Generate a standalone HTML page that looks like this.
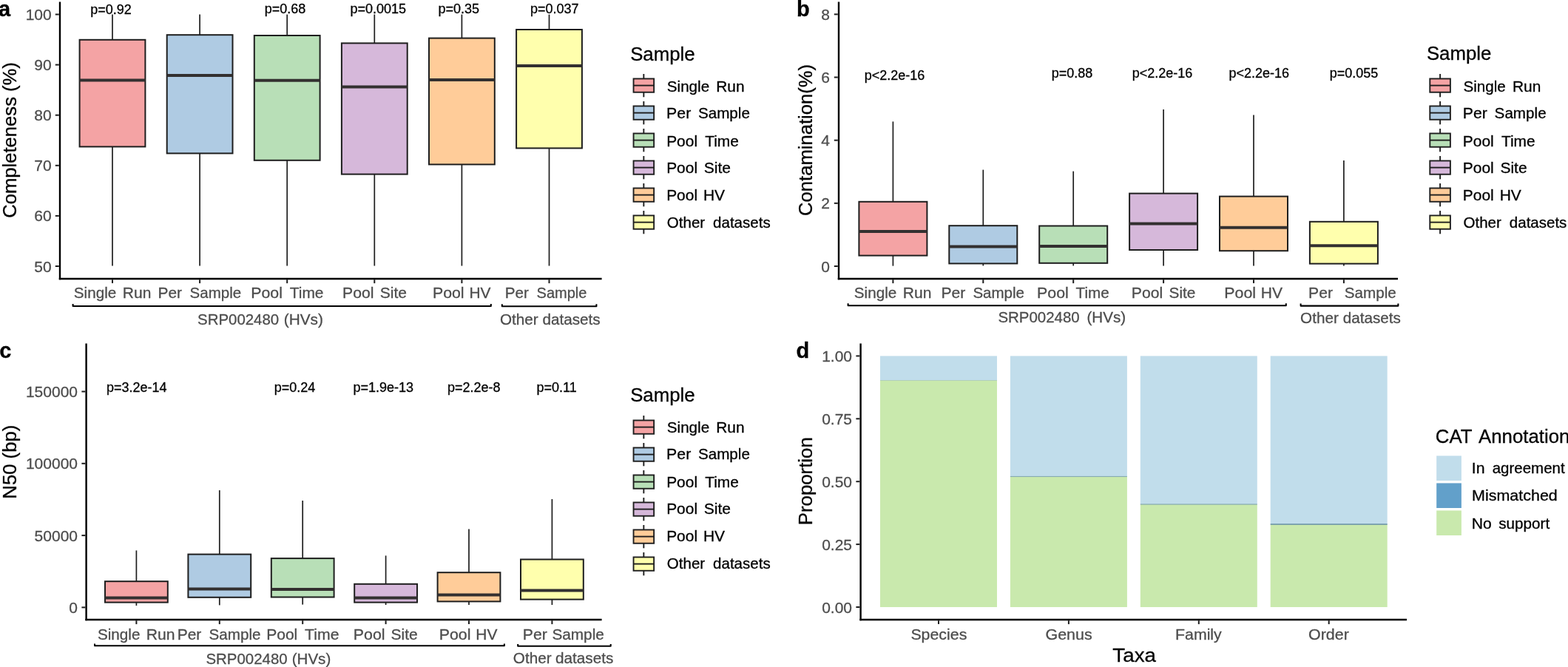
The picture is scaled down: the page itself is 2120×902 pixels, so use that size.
<!DOCTYPE html>
<html><head><meta charset="utf-8"><title>Figure</title>
<style>
html,body{margin:0;padding:0;background:#fff;}
body{width:2120px;height:902px;overflow:hidden;}
svg{display:block;}
text{white-space:pre;}
</style></head><body>
<svg width="2120" height="902" viewBox="0 0 2120 902" font-family='"Liberation Sans", sans-serif'>
<rect x="0.00" y="0.00" width="2120.00" height="902.00" fill="#ffffff" stroke="none" stroke-width="0"/>
<line x1="81.00" y1="2.40" x2="81.00" y2="378.20" stroke="#000000" stroke-width="2.4" stroke-linecap="butt"/>
<line x1="74.80" y1="360.00" x2="79.80" y2="360.00" stroke="#1e1e1e" stroke-width="2.0" stroke-linecap="butt"/>
<text x="69.70" y="367.50" font-size="21" fill="#4d4d4d" stroke="#4d4d4d" stroke-width="0.3" text-anchor="end" font-weight="normal" >50</text>
<line x1="74.80" y1="291.90" x2="79.80" y2="291.90" stroke="#1e1e1e" stroke-width="2.0" stroke-linecap="butt"/>
<text x="69.70" y="299.40" font-size="21" fill="#4d4d4d" stroke="#4d4d4d" stroke-width="0.3" text-anchor="end" font-weight="normal" >60</text>
<line x1="74.80" y1="223.80" x2="79.80" y2="223.80" stroke="#1e1e1e" stroke-width="2.0" stroke-linecap="butt"/>
<text x="69.70" y="231.30" font-size="21" fill="#4d4d4d" stroke="#4d4d4d" stroke-width="0.3" text-anchor="end" font-weight="normal" >70</text>
<line x1="74.80" y1="155.70" x2="79.80" y2="155.70" stroke="#1e1e1e" stroke-width="2.0" stroke-linecap="butt"/>
<text x="69.70" y="163.20" font-size="21" fill="#4d4d4d" stroke="#4d4d4d" stroke-width="0.3" text-anchor="end" font-weight="normal" >80</text>
<line x1="74.80" y1="87.60" x2="79.80" y2="87.60" stroke="#1e1e1e" stroke-width="2.0" stroke-linecap="butt"/>
<text x="69.70" y="95.10" font-size="21" fill="#4d4d4d" stroke="#4d4d4d" stroke-width="0.3" text-anchor="end" font-weight="normal" >90</text>
<line x1="74.80" y1="19.50" x2="79.80" y2="19.50" stroke="#1e1e1e" stroke-width="2.0" stroke-linecap="butt"/>
<text x="69.70" y="27.00" font-size="21" fill="#4d4d4d" stroke="#4d4d4d" stroke-width="0.3" text-anchor="end" font-weight="normal" >100</text>
<line x1="79.80" y1="377.00" x2="813.60" y2="377.00" stroke="#000000" stroke-width="2.4" stroke-linecap="butt"/>
<line x1="152.00" y1="378.20" x2="152.00" y2="383.10" stroke="#1e1e1e" stroke-width="2.0" stroke-linecap="butt"/>
<line x1="270.10" y1="378.20" x2="270.10" y2="383.10" stroke="#1e1e1e" stroke-width="2.0" stroke-linecap="butt"/>
<line x1="388.20" y1="378.20" x2="388.20" y2="383.10" stroke="#1e1e1e" stroke-width="2.0" stroke-linecap="butt"/>
<line x1="506.30" y1="378.20" x2="506.30" y2="383.10" stroke="#1e1e1e" stroke-width="2.0" stroke-linecap="butt"/>
<line x1="624.40" y1="378.20" x2="624.40" y2="383.10" stroke="#1e1e1e" stroke-width="2.0" stroke-linecap="butt"/>
<line x1="742.50" y1="378.20" x2="742.50" y2="383.10" stroke="#1e1e1e" stroke-width="2.0" stroke-linecap="butt"/>
<line x1="152.00" y1="19.60" x2="152.00" y2="53.80" stroke="#1e1e1e" stroke-width="1.7" stroke-linecap="butt"/>
<line x1="152.00" y1="198.40" x2="152.00" y2="359.50" stroke="#1e1e1e" stroke-width="1.7" stroke-linecap="butt"/>
<rect x="107.60" y="53.80" width="88.80" height="144.60" fill="#f4a3a4" stroke="#1e1e1e" stroke-width="2.0"/>
<line x1="107.60" y1="108.40" x2="196.40" y2="108.40" stroke="#333030" stroke-width="4.0" stroke-linecap="butt"/>
<line x1="270.10" y1="19.60" x2="270.10" y2="47.20" stroke="#1e1e1e" stroke-width="1.7" stroke-linecap="butt"/>
<line x1="270.10" y1="207.40" x2="270.10" y2="359.50" stroke="#1e1e1e" stroke-width="1.7" stroke-linecap="butt"/>
<rect x="225.70" y="47.20" width="88.80" height="160.20" fill="#afcbe3" stroke="#1e1e1e" stroke-width="2.0"/>
<line x1="225.70" y1="102.00" x2="314.50" y2="102.00" stroke="#333030" stroke-width="4.0" stroke-linecap="butt"/>
<line x1="388.20" y1="19.60" x2="388.20" y2="48.00" stroke="#1e1e1e" stroke-width="1.7" stroke-linecap="butt"/>
<line x1="388.20" y1="216.80" x2="388.20" y2="359.50" stroke="#1e1e1e" stroke-width="1.7" stroke-linecap="butt"/>
<rect x="343.80" y="48.00" width="88.80" height="168.80" fill="#b8dfb7" stroke="#1e1e1e" stroke-width="2.0"/>
<line x1="343.80" y1="108.70" x2="432.60" y2="108.70" stroke="#333030" stroke-width="4.0" stroke-linecap="butt"/>
<line x1="506.30" y1="19.60" x2="506.30" y2="58.40" stroke="#1e1e1e" stroke-width="1.7" stroke-linecap="butt"/>
<line x1="506.30" y1="235.60" x2="506.30" y2="359.50" stroke="#1e1e1e" stroke-width="1.7" stroke-linecap="butt"/>
<rect x="461.90" y="58.40" width="88.80" height="177.20" fill="#d6b8da" stroke="#1e1e1e" stroke-width="2.0"/>
<line x1="461.90" y1="117.60" x2="550.70" y2="117.60" stroke="#333030" stroke-width="4.0" stroke-linecap="butt"/>
<line x1="624.40" y1="19.60" x2="624.40" y2="51.60" stroke="#1e1e1e" stroke-width="1.7" stroke-linecap="butt"/>
<line x1="624.40" y1="222.40" x2="624.40" y2="359.50" stroke="#1e1e1e" stroke-width="1.7" stroke-linecap="butt"/>
<rect x="580.00" y="51.60" width="88.80" height="170.80" fill="#ffcc99" stroke="#1e1e1e" stroke-width="2.0"/>
<line x1="580.00" y1="108.00" x2="668.80" y2="108.00" stroke="#333030" stroke-width="4.0" stroke-linecap="butt"/>
<line x1="742.50" y1="19.60" x2="742.50" y2="40.00" stroke="#1e1e1e" stroke-width="1.7" stroke-linecap="butt"/>
<line x1="742.50" y1="200.40" x2="742.50" y2="359.50" stroke="#1e1e1e" stroke-width="1.7" stroke-linecap="butt"/>
<rect x="698.10" y="40.00" width="88.80" height="160.40" fill="#ffffad" stroke="#1e1e1e" stroke-width="2.0"/>
<line x1="698.10" y1="89.00" x2="786.90" y2="89.00" stroke="#333030" stroke-width="4.0" stroke-linecap="butt"/>
<text x="122.20" y="19.40" font-size="18" fill="#000" stroke="#000" stroke-width="0.3" text-anchor="start" font-weight="normal" >p=0.92</text>
<text x="357.80" y="17.80" font-size="18" fill="#000" stroke="#000" stroke-width="0.3" text-anchor="start" font-weight="normal" >p=0.68</text>
<text x="473.50" y="17.80" font-size="18" fill="#000" stroke="#000" stroke-width="0.3" text-anchor="start" font-weight="normal" >p=0.0015</text>
<text x="592.50" y="17.80" font-size="18" fill="#000" stroke="#000" stroke-width="0.3" text-anchor="start" font-weight="normal" >p=0.35</text>
<text x="717.00" y="17.80" font-size="18" fill="#000" stroke="#000" stroke-width="0.3" text-anchor="start" font-weight="normal" >p=0.037</text>
<text x="99.82" y="403.40" font-size="21" fill="#4d4d4d" stroke="#4d4d4d" stroke-width="0.3" textLength="57.45" lengthAdjust="spacingAndGlyphs">Single</text>
<text x="165.85" y="403.40" font-size="21" fill="#4d4d4d" stroke="#4d4d4d" stroke-width="0.3" textLength="38.52" lengthAdjust="spacingAndGlyphs">Run</text>
<text x="213.46" y="403.40" font-size="21" fill="#4d4d4d" stroke="#4d4d4d" stroke-width="0.3" textLength="32.57" lengthAdjust="spacingAndGlyphs">Per</text>
<text x="256.62" y="403.40" font-size="21" fill="#4d4d4d" stroke="#4d4d4d" stroke-width="0.3" textLength="69.61" lengthAdjust="spacingAndGlyphs">Sample</text>
<text x="339.22" y="403.40" font-size="21" fill="#4d4d4d" stroke="#4d4d4d" stroke-width="0.3" textLength="42.68" lengthAdjust="spacingAndGlyphs">Pool</text>
<text x="391.71" y="403.40" font-size="21" fill="#4d4d4d" stroke="#4d4d4d" stroke-width="0.3" textLength="45.83" lengthAdjust="spacingAndGlyphs">Time</text>
<text x="463.04" y="403.40" font-size="21" fill="#4d4d4d" stroke="#4d4d4d" stroke-width="0.3" textLength="42.35" lengthAdjust="spacingAndGlyphs">Pool</text>
<text x="513.70" y="403.40" font-size="21" fill="#4d4d4d" stroke="#4d4d4d" stroke-width="0.3" textLength="36.24" lengthAdjust="spacingAndGlyphs">Site</text>
<text x="584.92" y="403.40" font-size="21" fill="#4d4d4d" stroke="#4d4d4d" stroke-width="0.3" textLength="42.68" lengthAdjust="spacingAndGlyphs">Pool</text>
<text x="634.46" y="403.40" font-size="21" fill="#4d4d4d" stroke="#4d4d4d" stroke-width="0.3" textLength="29.01" lengthAdjust="spacingAndGlyphs">HV</text>
<text x="682.68" y="403.40" font-size="21" fill="#4d4d4d" stroke="#4d4d4d" stroke-width="0.3" textLength="32.14" lengthAdjust="spacingAndGlyphs">Per</text>
<text x="725.55" y="403.40" font-size="21" fill="#4d4d4d" stroke="#4d4d4d" stroke-width="0.3" textLength="67.86" lengthAdjust="spacingAndGlyphs">Sample</text>
<path d="M98.60,411.10 L98.60,414.00 L663.80,414.00 L663.80,411.10" fill="none" stroke="#000" stroke-width="2.05" stroke-linejoin="round"/>
<path d="M678.80,411.30 L678.80,414.20 L806.40,414.20 L806.40,411.30" fill="none" stroke="#000" stroke-width="2.05" stroke-linejoin="round"/>
<text x="267.03" y="438.60" font-size="21" fill="#4d4d4d" stroke="#4d4d4d" stroke-width="0.3" textLength="110.21" lengthAdjust="spacingAndGlyphs">SRP002480</text>
<text x="383.76" y="438.60" font-size="21" fill="#4d4d4d" stroke="#4d4d4d" stroke-width="0.3" textLength="53.13" lengthAdjust="spacingAndGlyphs">(HVs)</text>
<text x="675.91" y="438.80" font-size="21" fill="#4d4d4d" stroke="#4d4d4d" stroke-width="0.3" textLength="51.73" lengthAdjust="spacingAndGlyphs">Other</text>
<text x="733.48" y="438.80" font-size="21" fill="#4d4d4d" stroke="#4d4d4d" stroke-width="0.3" textLength="78.19" lengthAdjust="spacingAndGlyphs">datasets</text>
<text x="-1.24" y="0" font-size="25.8" fill="#000" stroke="#000" stroke-width="0.3" textLength="210.64" lengthAdjust="spacingAndGlyphs" transform="translate(21.90,293.50) rotate(-90)">Completeness (%)</text>
<text x="852.15" y="81.50" font-size="25.8" fill="#000" stroke="#000" stroke-width="0.3" text-anchor="start" font-weight="normal" >Sample</text>
<line x1="870.35" y1="100.00" x2="870.35" y2="106.50" stroke="#1e1e1e" stroke-width="1.9" stroke-linecap="butt"/>
<line x1="870.35" y1="124.70" x2="870.35" y2="131.30" stroke="#1e1e1e" stroke-width="1.9" stroke-linecap="butt"/>
<rect x="856.55" y="106.45" width="27.60" height="18.30" fill="#f4a3a4" stroke="#1e1e1e" stroke-width="1.9"/>
<line x1="856.55" y1="115.60" x2="884.15" y2="115.60" stroke="#1e1e1e" stroke-width="1.9" stroke-linecap="butt"/>
<text x="901.82" y="123.50" font-size="21" fill="#000" stroke="#000" stroke-width="0.3" textLength="57.34" lengthAdjust="spacingAndGlyphs">Single</text>
<text x="968.26" y="123.50" font-size="21" fill="#000" stroke="#000" stroke-width="0.3" textLength="38.31" lengthAdjust="spacingAndGlyphs">Run</text>
<line x1="870.35" y1="137.00" x2="870.35" y2="143.50" stroke="#1e1e1e" stroke-width="1.9" stroke-linecap="butt"/>
<line x1="870.35" y1="161.70" x2="870.35" y2="168.30" stroke="#1e1e1e" stroke-width="1.9" stroke-linecap="butt"/>
<rect x="856.55" y="143.45" width="27.60" height="18.30" fill="#afcbe3" stroke="#1e1e1e" stroke-width="1.9"/>
<line x1="856.55" y1="152.60" x2="884.15" y2="152.60" stroke="#1e1e1e" stroke-width="1.9" stroke-linecap="butt"/>
<text x="901.13" y="160.10" font-size="21" fill="#000" stroke="#000" stroke-width="0.3" textLength="33.11" lengthAdjust="spacingAndGlyphs">Per</text>
<text x="943.92" y="160.10" font-size="21" fill="#000" stroke="#000" stroke-width="0.3" textLength="70.02" lengthAdjust="spacingAndGlyphs">Sample</text>
<line x1="870.35" y1="174.00" x2="870.35" y2="180.50" stroke="#1e1e1e" stroke-width="1.9" stroke-linecap="butt"/>
<line x1="870.35" y1="198.70" x2="870.35" y2="205.30" stroke="#1e1e1e" stroke-width="1.9" stroke-linecap="butt"/>
<rect x="856.55" y="180.45" width="27.60" height="18.30" fill="#b8dfb7" stroke="#1e1e1e" stroke-width="1.9"/>
<line x1="856.55" y1="189.60" x2="884.15" y2="189.60" stroke="#1e1e1e" stroke-width="1.9" stroke-linecap="butt"/>
<text x="901.15" y="197.50" font-size="21" fill="#000" stroke="#000" stroke-width="0.3" textLength="41.92" lengthAdjust="spacingAndGlyphs">Pool</text>
<text x="953.21" y="197.50" font-size="21" fill="#000" stroke="#000" stroke-width="0.3" textLength="45.72" lengthAdjust="spacingAndGlyphs">Time</text>
<line x1="870.35" y1="211.00" x2="870.35" y2="217.50" stroke="#1e1e1e" stroke-width="1.9" stroke-linecap="butt"/>
<line x1="870.35" y1="235.70" x2="870.35" y2="242.30" stroke="#1e1e1e" stroke-width="1.9" stroke-linecap="butt"/>
<rect x="856.55" y="217.45" width="27.60" height="18.30" fill="#d6b8da" stroke="#1e1e1e" stroke-width="1.9"/>
<line x1="856.55" y1="226.60" x2="884.15" y2="226.60" stroke="#1e1e1e" stroke-width="1.9" stroke-linecap="butt"/>
<text x="901.15" y="234.20" font-size="21" fill="#000" stroke="#000" stroke-width="0.3" textLength="41.92" lengthAdjust="spacingAndGlyphs">Pool</text>
<text x="951.70" y="234.20" font-size="21" fill="#000" stroke="#000" stroke-width="0.3" textLength="36.24" lengthAdjust="spacingAndGlyphs">Site</text>
<line x1="870.35" y1="248.00" x2="870.35" y2="254.50" stroke="#1e1e1e" stroke-width="1.9" stroke-linecap="butt"/>
<line x1="870.35" y1="272.70" x2="870.35" y2="279.30" stroke="#1e1e1e" stroke-width="1.9" stroke-linecap="butt"/>
<rect x="856.55" y="254.45" width="27.60" height="18.30" fill="#ffcc99" stroke="#1e1e1e" stroke-width="1.9"/>
<line x1="856.55" y1="263.60" x2="884.15" y2="263.60" stroke="#1e1e1e" stroke-width="1.9" stroke-linecap="butt"/>
<text x="901.15" y="271.20" font-size="21" fill="#000" stroke="#000" stroke-width="0.3" textLength="41.92" lengthAdjust="spacingAndGlyphs">Pool</text>
<text x="950.95" y="271.20" font-size="21" fill="#000" stroke="#000" stroke-width="0.3" textLength="29.12" lengthAdjust="spacingAndGlyphs">HV</text>
<line x1="870.35" y1="285.00" x2="870.35" y2="291.50" stroke="#1e1e1e" stroke-width="1.9" stroke-linecap="butt"/>
<line x1="870.35" y1="309.70" x2="870.35" y2="316.30" stroke="#1e1e1e" stroke-width="1.9" stroke-linecap="butt"/>
<rect x="856.55" y="291.45" width="27.60" height="18.30" fill="#ffffad" stroke="#1e1e1e" stroke-width="1.9"/>
<line x1="856.55" y1="300.60" x2="884.15" y2="300.60" stroke="#1e1e1e" stroke-width="1.9" stroke-linecap="butt"/>
<text x="901.82" y="307.80" font-size="21" fill="#000" stroke="#000" stroke-width="0.3" textLength="51.34" lengthAdjust="spacingAndGlyphs">Other</text>
<text x="964.12" y="307.80" font-size="21" fill="#000" stroke="#000" stroke-width="0.3" textLength="77.54" lengthAdjust="spacingAndGlyphs">datasets</text>
<text x="-2.00" y="21.60" font-size="29" fill="#000" stroke="#000" stroke-width="0.3" text-anchor="start" font-weight="bold" >a</text>
<line x1="1134.00" y1="2.40" x2="1134.00" y2="378.20" stroke="#000000" stroke-width="2.4" stroke-linecap="butt"/>
<line x1="1127.80" y1="360.00" x2="1132.80" y2="360.00" stroke="#1e1e1e" stroke-width="2.0" stroke-linecap="butt"/>
<text x="1122.00" y="367.50" font-size="21" fill="#4d4d4d" stroke="#4d4d4d" stroke-width="0.3" text-anchor="end" font-weight="normal" >0</text>
<line x1="1127.80" y1="274.84" x2="1132.80" y2="274.84" stroke="#1e1e1e" stroke-width="2.0" stroke-linecap="butt"/>
<text x="1122.00" y="282.34" font-size="21" fill="#4d4d4d" stroke="#4d4d4d" stroke-width="0.3" text-anchor="end" font-weight="normal" >2</text>
<line x1="1127.80" y1="189.68" x2="1132.80" y2="189.68" stroke="#1e1e1e" stroke-width="2.0" stroke-linecap="butt"/>
<text x="1122.00" y="197.18" font-size="21" fill="#4d4d4d" stroke="#4d4d4d" stroke-width="0.3" text-anchor="end" font-weight="normal" >4</text>
<line x1="1127.80" y1="104.52" x2="1132.80" y2="104.52" stroke="#1e1e1e" stroke-width="2.0" stroke-linecap="butt"/>
<text x="1122.00" y="112.02" font-size="21" fill="#4d4d4d" stroke="#4d4d4d" stroke-width="0.3" text-anchor="end" font-weight="normal" >6</text>
<line x1="1127.80" y1="19.36" x2="1132.80" y2="19.36" stroke="#1e1e1e" stroke-width="2.0" stroke-linecap="butt"/>
<text x="1122.00" y="26.86" font-size="21" fill="#4d4d4d" stroke="#4d4d4d" stroke-width="0.3" text-anchor="end" font-weight="normal" >8</text>
<line x1="1132.80" y1="377.00" x2="1890.00" y2="377.00" stroke="#000000" stroke-width="2.4" stroke-linecap="butt"/>
<line x1="1207.40" y1="378.20" x2="1207.40" y2="383.10" stroke="#1e1e1e" stroke-width="2.0" stroke-linecap="butt"/>
<line x1="1329.30" y1="378.20" x2="1329.30" y2="383.10" stroke="#1e1e1e" stroke-width="2.0" stroke-linecap="butt"/>
<line x1="1451.20" y1="378.20" x2="1451.20" y2="383.10" stroke="#1e1e1e" stroke-width="2.0" stroke-linecap="butt"/>
<line x1="1573.10" y1="378.20" x2="1573.10" y2="383.10" stroke="#1e1e1e" stroke-width="2.0" stroke-linecap="butt"/>
<line x1="1695.00" y1="378.20" x2="1695.00" y2="383.10" stroke="#1e1e1e" stroke-width="2.0" stroke-linecap="butt"/>
<line x1="1816.90" y1="378.20" x2="1816.90" y2="383.10" stroke="#1e1e1e" stroke-width="2.0" stroke-linecap="butt"/>
<line x1="1207.40" y1="164.40" x2="1207.40" y2="272.80" stroke="#1e1e1e" stroke-width="1.7" stroke-linecap="butt"/>
<line x1="1207.40" y1="345.60" x2="1207.40" y2="359.60" stroke="#1e1e1e" stroke-width="1.7" stroke-linecap="butt"/>
<rect x="1161.40" y="272.80" width="92.00" height="72.80" fill="#f4a3a4" stroke="#1e1e1e" stroke-width="2.0"/>
<line x1="1161.40" y1="313.00" x2="1253.40" y2="313.00" stroke="#333030" stroke-width="4.0" stroke-linecap="butt"/>
<line x1="1329.30" y1="229.60" x2="1329.30" y2="305.20" stroke="#1e1e1e" stroke-width="1.7" stroke-linecap="butt"/>
<line x1="1329.30" y1="356.40" x2="1329.30" y2="359.40" stroke="#1e1e1e" stroke-width="1.7" stroke-linecap="butt"/>
<rect x="1283.30" y="305.20" width="92.00" height="51.20" fill="#afcbe3" stroke="#1e1e1e" stroke-width="2.0"/>
<line x1="1283.30" y1="333.60" x2="1375.30" y2="333.60" stroke="#333030" stroke-width="4.0" stroke-linecap="butt"/>
<line x1="1451.20" y1="231.60" x2="1451.20" y2="305.50" stroke="#1e1e1e" stroke-width="1.7" stroke-linecap="butt"/>
<line x1="1451.20" y1="355.80" x2="1451.20" y2="359.40" stroke="#1e1e1e" stroke-width="1.7" stroke-linecap="butt"/>
<rect x="1405.20" y="305.50" width="92.00" height="50.30" fill="#b8dfb7" stroke="#1e1e1e" stroke-width="2.0"/>
<line x1="1405.20" y1="333.00" x2="1497.20" y2="333.00" stroke="#333030" stroke-width="4.0" stroke-linecap="butt"/>
<line x1="1573.10" y1="148.00" x2="1573.10" y2="261.60" stroke="#1e1e1e" stroke-width="1.7" stroke-linecap="butt"/>
<line x1="1573.10" y1="338.00" x2="1573.10" y2="359.60" stroke="#1e1e1e" stroke-width="1.7" stroke-linecap="butt"/>
<rect x="1527.10" y="261.60" width="92.00" height="76.40" fill="#d6b8da" stroke="#1e1e1e" stroke-width="2.0"/>
<line x1="1527.10" y1="302.60" x2="1619.10" y2="302.60" stroke="#333030" stroke-width="4.0" stroke-linecap="butt"/>
<line x1="1695.00" y1="155.60" x2="1695.00" y2="265.60" stroke="#1e1e1e" stroke-width="1.7" stroke-linecap="butt"/>
<line x1="1695.00" y1="339.20" x2="1695.00" y2="359.60" stroke="#1e1e1e" stroke-width="1.7" stroke-linecap="butt"/>
<rect x="1649.00" y="265.60" width="92.00" height="73.60" fill="#ffcc99" stroke="#1e1e1e" stroke-width="2.0"/>
<line x1="1649.00" y1="307.70" x2="1741.00" y2="307.70" stroke="#333030" stroke-width="4.0" stroke-linecap="butt"/>
<line x1="1816.90" y1="217.00" x2="1816.90" y2="299.80" stroke="#1e1e1e" stroke-width="1.7" stroke-linecap="butt"/>
<line x1="1816.90" y1="356.60" x2="1816.90" y2="359.40" stroke="#1e1e1e" stroke-width="1.7" stroke-linecap="butt"/>
<rect x="1770.90" y="299.80" width="92.00" height="56.80" fill="#ffffad" stroke="#1e1e1e" stroke-width="2.0"/>
<line x1="1770.90" y1="332.20" x2="1862.90" y2="332.20" stroke="#333030" stroke-width="4.0" stroke-linecap="butt"/>
<text x="1168.80" y="107.80" font-size="18" fill="#000" stroke="#000" stroke-width="0.3" text-anchor="start" font-weight="normal" >p&lt;2.2e-16</text>
<text x="1421.80" y="104.50" font-size="18" fill="#000" stroke="#000" stroke-width="0.3" text-anchor="start" font-weight="normal" >p=0.88</text>
<text x="1530.80" y="104.50" font-size="18" fill="#000" stroke="#000" stroke-width="0.3" text-anchor="start" font-weight="normal" >p&lt;2.2e-16</text>
<text x="1661.50" y="104.50" font-size="18" fill="#000" stroke="#000" stroke-width="0.3" text-anchor="start" font-weight="normal" >p&lt;2.2e-16</text>
<text x="1797.80" y="104.50" font-size="18" fill="#000" stroke="#000" stroke-width="0.3" text-anchor="start" font-weight="normal" >p=0.055</text>
<text x="1154.82" y="403.40" font-size="21" fill="#4d4d4d" stroke="#4d4d4d" stroke-width="0.3" textLength="57.45" lengthAdjust="spacingAndGlyphs">Single</text>
<text x="1220.85" y="403.40" font-size="21" fill="#4d4d4d" stroke="#4d4d4d" stroke-width="0.3" textLength="38.52" lengthAdjust="spacingAndGlyphs">Run</text>
<text x="1272.44" y="403.40" font-size="21" fill="#4d4d4d" stroke="#4d4d4d" stroke-width="0.3" textLength="32.89" lengthAdjust="spacingAndGlyphs">Per</text>
<text x="1315.42" y="403.40" font-size="21" fill="#4d4d4d" stroke="#4d4d4d" stroke-width="0.3" textLength="69.61" lengthAdjust="spacingAndGlyphs">Sample</text>
<text x="1402.12" y="403.40" font-size="21" fill="#4d4d4d" stroke="#4d4d4d" stroke-width="0.3" textLength="42.68" lengthAdjust="spacingAndGlyphs">Pool</text>
<text x="1454.62" y="403.40" font-size="21" fill="#4d4d4d" stroke="#4d4d4d" stroke-width="0.3" textLength="44.99" lengthAdjust="spacingAndGlyphs">Time</text>
<text x="1529.84" y="403.40" font-size="21" fill="#4d4d4d" stroke="#4d4d4d" stroke-width="0.3" textLength="42.35" lengthAdjust="spacingAndGlyphs">Pool</text>
<text x="1580.51" y="403.40" font-size="21" fill="#4d4d4d" stroke="#4d4d4d" stroke-width="0.3" textLength="35.92" lengthAdjust="spacingAndGlyphs">Site</text>
<text x="1655.32" y="403.40" font-size="21" fill="#4d4d4d" stroke="#4d4d4d" stroke-width="0.3" textLength="42.68" lengthAdjust="spacingAndGlyphs">Pool</text>
<text x="1704.85" y="403.40" font-size="21" fill="#4d4d4d" stroke="#4d4d4d" stroke-width="0.3" textLength="29.12" lengthAdjust="spacingAndGlyphs">HV</text>
<text x="1769.14" y="403.40" font-size="21" fill="#4d4d4d" stroke="#4d4d4d" stroke-width="0.3" textLength="32.89" lengthAdjust="spacingAndGlyphs">Per</text>
<text x="1817.82" y="403.40" font-size="21" fill="#4d4d4d" stroke="#4d4d4d" stroke-width="0.3" textLength="69.92" lengthAdjust="spacingAndGlyphs">Sample</text>
<path d="M1146.60,410.20 L1146.60,413.20 L1738.80,413.20 L1738.80,410.20" fill="none" stroke="#000" stroke-width="2.05" stroke-linejoin="round"/>
<path d="M1758.60,410.40 L1758.60,413.60 L1890.40,413.60 L1890.40,410.40" fill="none" stroke="#000" stroke-width="2.05" stroke-linejoin="round"/>
<text x="1349.43" y="436.20" font-size="21" fill="#4d4d4d" stroke="#4d4d4d" stroke-width="0.3" textLength="110.31" lengthAdjust="spacingAndGlyphs">SRP002480</text>
<text x="1469.47" y="436.20" font-size="21" fill="#4d4d4d" stroke="#4d4d4d" stroke-width="0.3" textLength="52.61" lengthAdjust="spacingAndGlyphs">(HVs)</text>
<text x="1758.12" y="436.50" font-size="21" fill="#4d4d4d" stroke="#4d4d4d" stroke-width="0.3" textLength="51.73" lengthAdjust="spacingAndGlyphs">Other</text>
<text x="1815.68" y="436.50" font-size="21" fill="#4d4d4d" stroke="#4d4d4d" stroke-width="0.3" textLength="78.19" lengthAdjust="spacingAndGlyphs">datasets</text>
<text x="-1.24" y="0" font-size="25.8" fill="#000" stroke="#000" stroke-width="0.3" textLength="204.97" lengthAdjust="spacingAndGlyphs" transform="translate(1098.20,290.70) rotate(-90)">Contamination(%)</text>
<text x="1928.90" y="81.20" font-size="25.8" fill="#000" stroke="#000" stroke-width="0.3" text-anchor="start" font-weight="normal" >Sample</text>
<line x1="1947.10" y1="100.00" x2="1947.10" y2="106.50" stroke="#1e1e1e" stroke-width="1.9" stroke-linecap="butt"/>
<line x1="1947.10" y1="124.70" x2="1947.10" y2="131.30" stroke="#1e1e1e" stroke-width="1.9" stroke-linecap="butt"/>
<rect x="1933.30" y="106.45" width="27.60" height="18.30" fill="#f4a3a4" stroke="#1e1e1e" stroke-width="1.9"/>
<line x1="1933.30" y1="115.60" x2="1960.90" y2="115.60" stroke="#1e1e1e" stroke-width="1.9" stroke-linecap="butt"/>
<text x="1978.52" y="123.50" font-size="21" fill="#000" stroke="#000" stroke-width="0.3" textLength="57.34" lengthAdjust="spacingAndGlyphs">Single</text>
<text x="2044.96" y="123.50" font-size="21" fill="#000" stroke="#000" stroke-width="0.3" textLength="38.31" lengthAdjust="spacingAndGlyphs">Run</text>
<line x1="1947.10" y1="137.00" x2="1947.10" y2="143.50" stroke="#1e1e1e" stroke-width="1.9" stroke-linecap="butt"/>
<line x1="1947.10" y1="161.70" x2="1947.10" y2="168.30" stroke="#1e1e1e" stroke-width="1.9" stroke-linecap="butt"/>
<rect x="1933.30" y="143.45" width="27.60" height="18.30" fill="#afcbe3" stroke="#1e1e1e" stroke-width="1.9"/>
<line x1="1933.30" y1="152.60" x2="1960.90" y2="152.60" stroke="#1e1e1e" stroke-width="1.9" stroke-linecap="butt"/>
<text x="1977.83" y="160.10" font-size="21" fill="#000" stroke="#000" stroke-width="0.3" textLength="33.11" lengthAdjust="spacingAndGlyphs">Per</text>
<text x="2020.62" y="160.10" font-size="21" fill="#000" stroke="#000" stroke-width="0.3" textLength="70.02" lengthAdjust="spacingAndGlyphs">Sample</text>
<line x1="1947.10" y1="174.00" x2="1947.10" y2="180.50" stroke="#1e1e1e" stroke-width="1.9" stroke-linecap="butt"/>
<line x1="1947.10" y1="198.70" x2="1947.10" y2="205.30" stroke="#1e1e1e" stroke-width="1.9" stroke-linecap="butt"/>
<rect x="1933.30" y="180.45" width="27.60" height="18.30" fill="#b8dfb7" stroke="#1e1e1e" stroke-width="1.9"/>
<line x1="1933.30" y1="189.60" x2="1960.90" y2="189.60" stroke="#1e1e1e" stroke-width="1.9" stroke-linecap="butt"/>
<text x="1977.85" y="197.50" font-size="21" fill="#000" stroke="#000" stroke-width="0.3" textLength="41.92" lengthAdjust="spacingAndGlyphs">Pool</text>
<text x="2029.91" y="197.50" font-size="21" fill="#000" stroke="#000" stroke-width="0.3" textLength="45.72" lengthAdjust="spacingAndGlyphs">Time</text>
<line x1="1947.10" y1="211.00" x2="1947.10" y2="217.50" stroke="#1e1e1e" stroke-width="1.9" stroke-linecap="butt"/>
<line x1="1947.10" y1="235.70" x2="1947.10" y2="242.30" stroke="#1e1e1e" stroke-width="1.9" stroke-linecap="butt"/>
<rect x="1933.30" y="217.45" width="27.60" height="18.30" fill="#d6b8da" stroke="#1e1e1e" stroke-width="1.9"/>
<line x1="1933.30" y1="226.60" x2="1960.90" y2="226.60" stroke="#1e1e1e" stroke-width="1.9" stroke-linecap="butt"/>
<text x="1977.85" y="234.20" font-size="21" fill="#000" stroke="#000" stroke-width="0.3" textLength="41.92" lengthAdjust="spacingAndGlyphs">Pool</text>
<text x="2028.40" y="234.20" font-size="21" fill="#000" stroke="#000" stroke-width="0.3" textLength="36.24" lengthAdjust="spacingAndGlyphs">Site</text>
<line x1="1947.10" y1="248.00" x2="1947.10" y2="254.50" stroke="#1e1e1e" stroke-width="1.9" stroke-linecap="butt"/>
<line x1="1947.10" y1="272.70" x2="1947.10" y2="279.30" stroke="#1e1e1e" stroke-width="1.9" stroke-linecap="butt"/>
<rect x="1933.30" y="254.45" width="27.60" height="18.30" fill="#ffcc99" stroke="#1e1e1e" stroke-width="1.9"/>
<line x1="1933.30" y1="263.60" x2="1960.90" y2="263.60" stroke="#1e1e1e" stroke-width="1.9" stroke-linecap="butt"/>
<text x="1977.85" y="271.20" font-size="21" fill="#000" stroke="#000" stroke-width="0.3" textLength="41.92" lengthAdjust="spacingAndGlyphs">Pool</text>
<text x="2027.65" y="271.20" font-size="21" fill="#000" stroke="#000" stroke-width="0.3" textLength="29.12" lengthAdjust="spacingAndGlyphs">HV</text>
<line x1="1947.10" y1="285.00" x2="1947.10" y2="291.50" stroke="#1e1e1e" stroke-width="1.9" stroke-linecap="butt"/>
<line x1="1947.10" y1="309.70" x2="1947.10" y2="316.30" stroke="#1e1e1e" stroke-width="1.9" stroke-linecap="butt"/>
<rect x="1933.30" y="291.45" width="27.60" height="18.30" fill="#ffffad" stroke="#1e1e1e" stroke-width="1.9"/>
<line x1="1933.30" y1="300.60" x2="1960.90" y2="300.60" stroke="#1e1e1e" stroke-width="1.9" stroke-linecap="butt"/>
<text x="1978.52" y="307.80" font-size="21" fill="#000" stroke="#000" stroke-width="0.3" textLength="51.34" lengthAdjust="spacingAndGlyphs">Other</text>
<text x="2040.82" y="307.80" font-size="21" fill="#000" stroke="#000" stroke-width="0.3" textLength="77.54" lengthAdjust="spacingAndGlyphs">datasets</text>
<text x="1077.00" y="21.60" font-size="29" fill="#000" stroke="#000" stroke-width="0.3" text-anchor="start" font-weight="bold" >b</text>
<line x1="116.60" y1="464.40" x2="116.60" y2="839.20" stroke="#000000" stroke-width="2.4" stroke-linecap="butt"/>
<line x1="110.40" y1="821.40" x2="115.40" y2="821.40" stroke="#1e1e1e" stroke-width="2.0" stroke-linecap="butt"/>
<text x="105.00" y="828.90" font-size="21" fill="#4d4d4d" stroke="#4d4d4d" stroke-width="0.3" text-anchor="end" font-weight="normal" >0</text>
<line x1="110.40" y1="724.10" x2="115.40" y2="724.10" stroke="#1e1e1e" stroke-width="2.0" stroke-linecap="butt"/>
<text x="105.00" y="731.60" font-size="21" fill="#4d4d4d" stroke="#4d4d4d" stroke-width="0.3" text-anchor="end" font-weight="normal" >50000</text>
<line x1="110.40" y1="626.80" x2="115.40" y2="626.80" stroke="#1e1e1e" stroke-width="2.0" stroke-linecap="butt"/>
<text x="105.00" y="634.30" font-size="21" fill="#4d4d4d" stroke="#4d4d4d" stroke-width="0.3" text-anchor="end" font-weight="normal" >100000</text>
<line x1="110.40" y1="529.50" x2="115.40" y2="529.50" stroke="#1e1e1e" stroke-width="2.0" stroke-linecap="butt"/>
<text x="105.00" y="537.00" font-size="21" fill="#4d4d4d" stroke="#4d4d4d" stroke-width="0.3" text-anchor="end" font-weight="normal" >150000</text>
<line x1="115.40" y1="838.00" x2="813.60" y2="838.00" stroke="#000000" stroke-width="2.4" stroke-linecap="butt"/>
<line x1="184.40" y1="839.20" x2="184.40" y2="844.10" stroke="#1e1e1e" stroke-width="2.0" stroke-linecap="butt"/>
<line x1="296.80" y1="839.20" x2="296.80" y2="844.10" stroke="#1e1e1e" stroke-width="2.0" stroke-linecap="butt"/>
<line x1="409.20" y1="839.20" x2="409.20" y2="844.10" stroke="#1e1e1e" stroke-width="2.0" stroke-linecap="butt"/>
<line x1="521.60" y1="839.20" x2="521.60" y2="844.10" stroke="#1e1e1e" stroke-width="2.0" stroke-linecap="butt"/>
<line x1="634.00" y1="839.20" x2="634.00" y2="844.10" stroke="#1e1e1e" stroke-width="2.0" stroke-linecap="butt"/>
<line x1="746.40" y1="839.20" x2="746.40" y2="844.10" stroke="#1e1e1e" stroke-width="2.0" stroke-linecap="butt"/>
<line x1="184.40" y1="744.40" x2="184.40" y2="786.20" stroke="#1e1e1e" stroke-width="1.7" stroke-linecap="butt"/>
<line x1="184.40" y1="814.60" x2="184.40" y2="819.00" stroke="#1e1e1e" stroke-width="1.7" stroke-linecap="butt"/>
<rect x="142.00" y="786.20" width="84.80" height="28.40" fill="#f4a3a4" stroke="#1e1e1e" stroke-width="2.0"/>
<line x1="142.00" y1="808.40" x2="226.80" y2="808.40" stroke="#333030" stroke-width="4.0" stroke-linecap="butt"/>
<line x1="296.80" y1="663.00" x2="296.80" y2="749.60" stroke="#1e1e1e" stroke-width="1.7" stroke-linecap="butt"/>
<line x1="296.80" y1="807.80" x2="296.80" y2="818.40" stroke="#1e1e1e" stroke-width="1.7" stroke-linecap="butt"/>
<rect x="254.40" y="749.60" width="84.80" height="58.20" fill="#afcbe3" stroke="#1e1e1e" stroke-width="2.0"/>
<line x1="254.40" y1="796.40" x2="339.20" y2="796.40" stroke="#333030" stroke-width="4.0" stroke-linecap="butt"/>
<line x1="409.20" y1="677.00" x2="409.20" y2="755.10" stroke="#1e1e1e" stroke-width="1.7" stroke-linecap="butt"/>
<line x1="409.20" y1="807.50" x2="409.20" y2="817.60" stroke="#1e1e1e" stroke-width="1.7" stroke-linecap="butt"/>
<rect x="366.80" y="755.10" width="84.80" height="52.40" fill="#b8dfb7" stroke="#1e1e1e" stroke-width="2.0"/>
<line x1="366.80" y1="797.00" x2="451.60" y2="797.00" stroke="#333030" stroke-width="4.0" stroke-linecap="butt"/>
<line x1="521.60" y1="751.40" x2="521.60" y2="789.80" stroke="#1e1e1e" stroke-width="1.7" stroke-linecap="butt"/>
<line x1="521.60" y1="814.60" x2="521.60" y2="818.00" stroke="#1e1e1e" stroke-width="1.7" stroke-linecap="butt"/>
<rect x="479.20" y="789.80" width="84.80" height="24.80" fill="#d6b8da" stroke="#1e1e1e" stroke-width="2.0"/>
<line x1="479.20" y1="808.40" x2="564.00" y2="808.40" stroke="#333030" stroke-width="4.0" stroke-linecap="butt"/>
<line x1="634.00" y1="715.60" x2="634.00" y2="774.20" stroke="#1e1e1e" stroke-width="1.7" stroke-linecap="butt"/>
<line x1="634.00" y1="813.40" x2="634.00" y2="818.00" stroke="#1e1e1e" stroke-width="1.7" stroke-linecap="butt"/>
<rect x="591.60" y="774.20" width="84.80" height="39.20" fill="#ffcc99" stroke="#1e1e1e" stroke-width="2.0"/>
<line x1="591.60" y1="804.50" x2="676.40" y2="804.50" stroke="#333030" stroke-width="4.0" stroke-linecap="butt"/>
<line x1="746.40" y1="675.00" x2="746.40" y2="756.50" stroke="#1e1e1e" stroke-width="1.7" stroke-linecap="butt"/>
<line x1="746.40" y1="810.60" x2="746.40" y2="818.00" stroke="#1e1e1e" stroke-width="1.7" stroke-linecap="butt"/>
<rect x="704.00" y="756.50" width="84.80" height="54.10" fill="#ffffad" stroke="#1e1e1e" stroke-width="2.0"/>
<line x1="704.00" y1="798.50" x2="788.80" y2="798.50" stroke="#333030" stroke-width="4.0" stroke-linecap="butt"/>
<text x="144.00" y="529.90" font-size="18" fill="#000" stroke="#000" stroke-width="0.3" text-anchor="start" font-weight="normal" >p=3.2e-14</text>
<text x="370.80" y="529.90" font-size="18" fill="#000" stroke="#000" stroke-width="0.3" text-anchor="start" font-weight="normal" >p=0.24</text>
<text x="477.50" y="529.90" font-size="18" fill="#000" stroke="#000" stroke-width="0.3" text-anchor="start" font-weight="normal" >p=1.9e-13</text>
<text x="605.00" y="529.90" font-size="18" fill="#000" stroke="#000" stroke-width="0.3" text-anchor="start" font-weight="normal" >p=2.2e-8</text>
<text x="725.50" y="529.90" font-size="18" fill="#000" stroke="#000" stroke-width="0.3" text-anchor="start" font-weight="normal" >p=0.11</text>
<text x="131.91" y="865.00" font-size="21" fill="#4d4d4d" stroke="#4d4d4d" stroke-width="0.3" textLength="57.55" lengthAdjust="spacingAndGlyphs">Single</text>
<text x="197.84" y="865.00" font-size="21" fill="#4d4d4d" stroke="#4d4d4d" stroke-width="0.3" textLength="38.74" lengthAdjust="spacingAndGlyphs">Run</text>
<text x="239.65" y="865.00" font-size="21" fill="#4d4d4d" stroke="#4d4d4d" stroke-width="0.3" textLength="32.68" lengthAdjust="spacingAndGlyphs">Per</text>
<text x="282.52" y="865.00" font-size="21" fill="#4d4d4d" stroke="#4d4d4d" stroke-width="0.3" textLength="69.92" lengthAdjust="spacingAndGlyphs">Sample</text>
<text x="360.15" y="865.00" font-size="21" fill="#4d4d4d" stroke="#4d4d4d" stroke-width="0.3" textLength="42.14" lengthAdjust="spacingAndGlyphs">Pool</text>
<text x="412.10" y="865.00" font-size="21" fill="#4d4d4d" stroke="#4d4d4d" stroke-width="0.3" textLength="46.35" lengthAdjust="spacingAndGlyphs">Time</text>
<text x="477.82" y="865.00" font-size="21" fill="#4d4d4d" stroke="#4d4d4d" stroke-width="0.3" textLength="42.68" lengthAdjust="spacingAndGlyphs">Pool</text>
<text x="528.40" y="865.00" font-size="21" fill="#4d4d4d" stroke="#4d4d4d" stroke-width="0.3" textLength="36.34" lengthAdjust="spacingAndGlyphs">Site</text>
<text x="593.72" y="865.00" font-size="21" fill="#4d4d4d" stroke="#4d4d4d" stroke-width="0.3" textLength="42.68" lengthAdjust="spacingAndGlyphs">Pool</text>
<text x="643.25" y="865.00" font-size="21" fill="#4d4d4d" stroke="#4d4d4d" stroke-width="0.3" textLength="29.12" lengthAdjust="spacingAndGlyphs">HV</text>
<text x="706.83" y="865.00" font-size="21" fill="#4d4d4d" stroke="#4d4d4d" stroke-width="0.3" textLength="33.00" lengthAdjust="spacingAndGlyphs">Per</text>
<text x="746.41" y="865.00" font-size="21" fill="#4d4d4d" stroke="#4d4d4d" stroke-width="0.3" textLength="70.43" lengthAdjust="spacingAndGlyphs">Sample</text>
<path d="M128.00,870.40 L128.00,873.30 L681.90,873.30 L681.90,870.40" fill="none" stroke="#000" stroke-width="2.05" stroke-linejoin="round"/>
<path d="M700.20,870.90 L700.20,873.80 L825.70,873.80 L825.70,870.90" fill="none" stroke="#000" stroke-width="2.05" stroke-linejoin="round"/>
<text x="278.43" y="897.50" font-size="21" fill="#4d4d4d" stroke="#4d4d4d" stroke-width="0.3" textLength="110.21" lengthAdjust="spacingAndGlyphs">SRP002480</text>
<text x="394.67" y="897.50" font-size="21" fill="#4d4d4d" stroke="#4d4d4d" stroke-width="0.3" textLength="52.61" lengthAdjust="spacingAndGlyphs">(HVs)</text>
<text x="693.81" y="897.00" font-size="21" fill="#4d4d4d" stroke="#4d4d4d" stroke-width="0.3" textLength="51.73" lengthAdjust="spacingAndGlyphs">Other</text>
<text x="751.08" y="897.00" font-size="21" fill="#4d4d4d" stroke="#4d4d4d" stroke-width="0.3" textLength="78.19" lengthAdjust="spacingAndGlyphs">datasets</text>
<text x="-1.99" y="0" font-size="25.8" fill="#000" stroke="#000" stroke-width="0.3" textLength="100.02" lengthAdjust="spacingAndGlyphs" transform="translate(21.70,672.70) rotate(-90)">N50 (bp)</text>
<text x="852.15" y="542.90" font-size="25.8" fill="#000" stroke="#000" stroke-width="0.3" text-anchor="start" font-weight="normal" >Sample</text>
<line x1="870.35" y1="562.00" x2="870.35" y2="568.50" stroke="#1e1e1e" stroke-width="1.9" stroke-linecap="butt"/>
<line x1="870.35" y1="586.70" x2="870.35" y2="593.30" stroke="#1e1e1e" stroke-width="1.9" stroke-linecap="butt"/>
<rect x="856.55" y="568.45" width="27.60" height="18.30" fill="#f4a3a4" stroke="#1e1e1e" stroke-width="1.9"/>
<line x1="856.55" y1="577.60" x2="884.15" y2="577.60" stroke="#1e1e1e" stroke-width="1.9" stroke-linecap="butt"/>
<text x="901.82" y="584.70" font-size="21" fill="#000" stroke="#000" stroke-width="0.3" textLength="57.34" lengthAdjust="spacingAndGlyphs">Single</text>
<text x="968.26" y="584.70" font-size="21" fill="#000" stroke="#000" stroke-width="0.3" textLength="38.31" lengthAdjust="spacingAndGlyphs">Run</text>
<line x1="870.35" y1="599.00" x2="870.35" y2="605.50" stroke="#1e1e1e" stroke-width="1.9" stroke-linecap="butt"/>
<line x1="870.35" y1="623.70" x2="870.35" y2="630.30" stroke="#1e1e1e" stroke-width="1.9" stroke-linecap="butt"/>
<rect x="856.55" y="605.45" width="27.60" height="18.30" fill="#afcbe3" stroke="#1e1e1e" stroke-width="1.9"/>
<line x1="856.55" y1="614.60" x2="884.15" y2="614.60" stroke="#1e1e1e" stroke-width="1.9" stroke-linecap="butt"/>
<text x="901.13" y="621.30" font-size="21" fill="#000" stroke="#000" stroke-width="0.3" textLength="33.11" lengthAdjust="spacingAndGlyphs">Per</text>
<text x="943.92" y="621.30" font-size="21" fill="#000" stroke="#000" stroke-width="0.3" textLength="70.02" lengthAdjust="spacingAndGlyphs">Sample</text>
<line x1="870.35" y1="636.00" x2="870.35" y2="642.50" stroke="#1e1e1e" stroke-width="1.9" stroke-linecap="butt"/>
<line x1="870.35" y1="660.70" x2="870.35" y2="667.30" stroke="#1e1e1e" stroke-width="1.9" stroke-linecap="butt"/>
<rect x="856.55" y="642.45" width="27.60" height="18.30" fill="#b8dfb7" stroke="#1e1e1e" stroke-width="1.9"/>
<line x1="856.55" y1="651.60" x2="884.15" y2="651.60" stroke="#1e1e1e" stroke-width="1.9" stroke-linecap="butt"/>
<text x="901.15" y="658.70" font-size="21" fill="#000" stroke="#000" stroke-width="0.3" textLength="41.92" lengthAdjust="spacingAndGlyphs">Pool</text>
<text x="953.21" y="658.70" font-size="21" fill="#000" stroke="#000" stroke-width="0.3" textLength="45.72" lengthAdjust="spacingAndGlyphs">Time</text>
<line x1="870.35" y1="673.00" x2="870.35" y2="679.50" stroke="#1e1e1e" stroke-width="1.9" stroke-linecap="butt"/>
<line x1="870.35" y1="697.70" x2="870.35" y2="704.30" stroke="#1e1e1e" stroke-width="1.9" stroke-linecap="butt"/>
<rect x="856.55" y="679.45" width="27.60" height="18.30" fill="#d6b8da" stroke="#1e1e1e" stroke-width="1.9"/>
<line x1="856.55" y1="688.60" x2="884.15" y2="688.60" stroke="#1e1e1e" stroke-width="1.9" stroke-linecap="butt"/>
<text x="901.15" y="695.40" font-size="21" fill="#000" stroke="#000" stroke-width="0.3" textLength="41.92" lengthAdjust="spacingAndGlyphs">Pool</text>
<text x="951.70" y="695.40" font-size="21" fill="#000" stroke="#000" stroke-width="0.3" textLength="36.24" lengthAdjust="spacingAndGlyphs">Site</text>
<line x1="870.35" y1="710.00" x2="870.35" y2="716.50" stroke="#1e1e1e" stroke-width="1.9" stroke-linecap="butt"/>
<line x1="870.35" y1="734.70" x2="870.35" y2="741.30" stroke="#1e1e1e" stroke-width="1.9" stroke-linecap="butt"/>
<rect x="856.55" y="716.45" width="27.60" height="18.30" fill="#ffcc99" stroke="#1e1e1e" stroke-width="1.9"/>
<line x1="856.55" y1="725.60" x2="884.15" y2="725.60" stroke="#1e1e1e" stroke-width="1.9" stroke-linecap="butt"/>
<text x="901.15" y="732.40" font-size="21" fill="#000" stroke="#000" stroke-width="0.3" textLength="41.92" lengthAdjust="spacingAndGlyphs">Pool</text>
<text x="950.95" y="732.40" font-size="21" fill="#000" stroke="#000" stroke-width="0.3" textLength="29.12" lengthAdjust="spacingAndGlyphs">HV</text>
<line x1="870.35" y1="747.00" x2="870.35" y2="753.50" stroke="#1e1e1e" stroke-width="1.9" stroke-linecap="butt"/>
<line x1="870.35" y1="771.70" x2="870.35" y2="778.30" stroke="#1e1e1e" stroke-width="1.9" stroke-linecap="butt"/>
<rect x="856.55" y="753.45" width="27.60" height="18.30" fill="#ffffad" stroke="#1e1e1e" stroke-width="1.9"/>
<line x1="856.55" y1="762.60" x2="884.15" y2="762.60" stroke="#1e1e1e" stroke-width="1.9" stroke-linecap="butt"/>
<text x="901.82" y="769.00" font-size="21" fill="#000" stroke="#000" stroke-width="0.3" textLength="51.34" lengthAdjust="spacingAndGlyphs">Other</text>
<text x="964.12" y="769.00" font-size="21" fill="#000" stroke="#000" stroke-width="0.3" textLength="77.54" lengthAdjust="spacingAndGlyphs">datasets</text>
<text x="-0.80" y="483.60" font-size="29" fill="#000" stroke="#000" stroke-width="0.3" text-anchor="start" font-weight="bold" >c</text>
<line x1="1163.60" y1="464.40" x2="1163.60" y2="839.20" stroke="#000000" stroke-width="2.4" stroke-linecap="butt"/>
<line x1="1157.40" y1="821.00" x2="1162.40" y2="821.00" stroke="#1e1e1e" stroke-width="2.0" stroke-linecap="butt"/>
<text x="1152.00" y="828.50" font-size="21" fill="#4d4d4d" stroke="#4d4d4d" stroke-width="0.3" text-anchor="end" font-weight="normal" >0.00</text>
<line x1="1157.40" y1="736.10" x2="1162.40" y2="736.10" stroke="#1e1e1e" stroke-width="2.0" stroke-linecap="butt"/>
<text x="1152.00" y="743.60" font-size="21" fill="#4d4d4d" stroke="#4d4d4d" stroke-width="0.3" text-anchor="end" font-weight="normal" >0.25</text>
<line x1="1157.40" y1="651.20" x2="1162.40" y2="651.20" stroke="#1e1e1e" stroke-width="2.0" stroke-linecap="butt"/>
<text x="1152.00" y="658.70" font-size="21" fill="#4d4d4d" stroke="#4d4d4d" stroke-width="0.3" text-anchor="end" font-weight="normal" >0.50</text>
<line x1="1157.40" y1="566.30" x2="1162.40" y2="566.30" stroke="#1e1e1e" stroke-width="2.0" stroke-linecap="butt"/>
<text x="1152.00" y="573.80" font-size="21" fill="#4d4d4d" stroke="#4d4d4d" stroke-width="0.3" text-anchor="end" font-weight="normal" >0.75</text>
<line x1="1157.40" y1="481.40" x2="1162.40" y2="481.40" stroke="#1e1e1e" stroke-width="2.0" stroke-linecap="butt"/>
<text x="1152.00" y="488.90" font-size="21" fill="#4d4d4d" stroke="#4d4d4d" stroke-width="0.3" text-anchor="end" font-weight="normal" >1.00</text>
<line x1="1162.40" y1="838.00" x2="1902.00" y2="838.00" stroke="#000000" stroke-width="2.4" stroke-linecap="butt"/>
<line x1="1269.00" y1="839.20" x2="1269.00" y2="844.10" stroke="#1e1e1e" stroke-width="2.0" stroke-linecap="butt"/>
<line x1="1444.90" y1="839.20" x2="1444.90" y2="844.10" stroke="#1e1e1e" stroke-width="2.0" stroke-linecap="butt"/>
<line x1="1620.80" y1="839.20" x2="1620.80" y2="844.10" stroke="#1e1e1e" stroke-width="2.0" stroke-linecap="butt"/>
<line x1="1796.70" y1="839.20" x2="1796.70" y2="844.10" stroke="#1e1e1e" stroke-width="2.0" stroke-linecap="butt"/>
<rect x="1190.00" y="481.40" width="158.00" height="33.00" fill="#c1ddeb" stroke="none" stroke-width="0"/>
<rect x="1190.00" y="514.40" width="158.00" height="306.60" fill="#c9e9ad" stroke="none" stroke-width="0"/>
<rect x="1190.00" y="514.15" width="158.00" height="0.50" fill="#8fb3a8" stroke="none" stroke-width="0"/>
<rect x="1365.90" y="481.40" width="158.00" height="163.00" fill="#c1ddeb" stroke="none" stroke-width="0"/>
<rect x="1365.90" y="644.40" width="158.00" height="176.60" fill="#c9e9ad" stroke="none" stroke-width="0"/>
<rect x="1365.90" y="643.90" width="158.00" height="1.00" fill="#7fa3ad" stroke="none" stroke-width="0"/>
<rect x="1541.80" y="481.40" width="158.00" height="200.60" fill="#c1ddeb" stroke="none" stroke-width="0"/>
<rect x="1541.80" y="682.00" width="158.00" height="139.00" fill="#c9e9ad" stroke="none" stroke-width="0"/>
<rect x="1541.80" y="681.45" width="158.00" height="1.10" fill="#7fa3ad" stroke="none" stroke-width="0"/>
<rect x="1717.70" y="481.40" width="158.00" height="227.60" fill="#c1ddeb" stroke="none" stroke-width="0"/>
<rect x="1717.70" y="709.00" width="158.00" height="112.00" fill="#c9e9ad" stroke="none" stroke-width="0"/>
<rect x="1717.70" y="708.20" width="158.00" height="1.60" fill="#6b94a8" stroke="none" stroke-width="0"/>
<text x="1231.38" y="864.90" font-size="21" fill="#4d4d4d" stroke="#4d4d4d" stroke-width="0.3" textLength="75.94" lengthAdjust="spacingAndGlyphs">Species</text>
<text x="1413.48" y="864.90" font-size="21" fill="#4d4d4d" stroke="#4d4d4d" stroke-width="0.3" textLength="63.21" lengthAdjust="spacingAndGlyphs">Genus</text>
<text x="1589.02" y="864.90" font-size="21" fill="#4d4d4d" stroke="#4d4d4d" stroke-width="0.3" textLength="62.76" lengthAdjust="spacingAndGlyphs">Family</text>
<text x="1769.08" y="864.90" font-size="21" fill="#4d4d4d" stroke="#4d4d4d" stroke-width="0.3" textLength="54.76" lengthAdjust="spacingAndGlyphs">Order</text>
<text x="1504.39" y="894.60" font-size="25.8" fill="#000" stroke="#000" stroke-width="0.3" textLength="58.53" lengthAdjust="spacingAndGlyphs">Taxa</text>
<text x="-2.00" y="0" font-size="25.8" fill="#000" stroke="#000" stroke-width="0.3" textLength="118.98" lengthAdjust="spacingAndGlyphs" transform="translate(1098.20,708.20) rotate(-90)">Proportion</text>
<text y="598.7" font-size="25.8" fill="#000" stroke="#000" stroke-width="0.3"><tspan x="1940.85">CAT</tspan> <tspan x="1999.00">Annotation</tspan></text>
<rect x="1942.20" y="616.40" width="33.70" height="33.60" fill="#c1ddeb" stroke="none" stroke-width="0"/>
<text x="1989.78" y="640.40" font-size="21" fill="#000" stroke="#000" stroke-width="0.3" textLength="17.70" lengthAdjust="spacingAndGlyphs">In</text>
<text x="2017.72" y="640.40" font-size="21" fill="#000" stroke="#000" stroke-width="0.3" textLength="97.92" lengthAdjust="spacingAndGlyphs">agreement</text>
<rect x="1942.20" y="653.40" width="33.70" height="33.60" fill="#62a0ca" stroke="none" stroke-width="0"/>
<text x="1990.01" y="677.30" font-size="21" fill="#000" stroke="#000" stroke-width="0.3" textLength="115.78" lengthAdjust="spacingAndGlyphs">Mismatched</text>
<rect x="1942.20" y="690.40" width="33.70" height="33.60" fill="#c9e9ad" stroke="none" stroke-width="0"/>
<text x="1989.84" y="714.60" font-size="21" fill="#000" stroke="#000" stroke-width="0.3" textLength="27.01" lengthAdjust="spacingAndGlyphs">No</text>
<text x="2026.16" y="714.60" font-size="21" fill="#000" stroke="#000" stroke-width="0.3" textLength="69.03" lengthAdjust="spacingAndGlyphs">support</text>
<text x="1076.50" y="483.60" font-size="29" fill="#000" stroke="#000" stroke-width="0.3" text-anchor="start" font-weight="bold" >d</text>
</svg>
</body></html>
